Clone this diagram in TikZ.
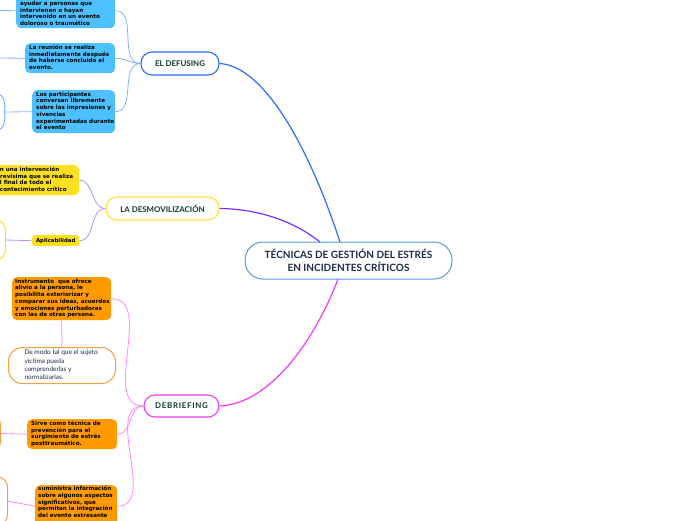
\documentclass[tikz,border=0pt]{standalone}
\usepackage{fontspec}
\setmainfont{DejaVu Sans}
\newfontfamily\latofont{Lato}
\definecolor{blueF}{HTML}{4DC0FF}
\definecolor{yellowF}{HTML}{FFE01F}
\definecolor{orangeF}{HTML}{FF9A00}
\definecolor{centralB}{HTML}{5A9BDC}
\definecolor{defB}{HTML}{2E6BFF}
\definecolor{desB}{HTML}{FFE03A}
\definecolor{debB}{HTML}{F03CF0}
\definecolor{mainT}{HTML}{0F3A30}
\definecolor{centralT}{HTML}{1B2A4A}
\definecolor{lblue}{HTML}{86B0FF}
\definecolor{lpurple}{HTML}{B690FF}
\definecolor{lpink}{HTML}{FF88FF}
\definecolor{mpurple}{HTML}{7B2FFF}
\definecolor{wOrange}{HTML}{F5A040}
\newcommand\boxlines[2]{\makebox[#1][l]{\begin{tabular}{@{}l@{}}#2\end{tabular}}}
\tikzset{
  mainnode/.style={draw, line width=1.1pt, fill=white, rounded corners=11pt, inner sep=0pt,
    font=\latofont\bfseries\fontsize{7.9}{9}\selectfont, text=mainT},
  childbox/.style={rounded corners=5pt, inner xsep=4pt, inner ysep=0pt, anchor=north west,
    font=\bfseries\fontsize{5.6}{6.7}\selectfont, text=black},
  partial/.style={draw, line width=1pt, fill=white, rounded corners=10pt, anchor=east, minimum width=45pt},
  clink/.style={line width=0.8pt},
  mlink/.style={line width=1.2pt}
}
\begin{document}
\begin{tikzpicture}[x=1pt,y=-1pt]
\useasboundingbox (0,0) rectangle (696,520);
\clip (0,0) rectangle (696,520);

% central
\node[draw=centralB, line width=1pt, fill=white, rounded corners=18pt, minimum width=207pt, minimum height=37pt,
  align=center, font=\latofont\bfseries\fontsize{10}{13.5}\selectfont, text=centralT] (central) at (348.5,260.5)
  {TÉCNICAS DE GESTIÓN DEL ESTRÉS\\EN INCIDENTES CRÍTICOS};

% main nodes
\node[mainnode, draw=defB, minimum width=78pt, minimum height=23pt] (def) at (180,63.5) {EL DEFUSING};
\node[mainnode, draw=desB, minimum width=113pt, minimum height=23pt] (des) at (162.5,208.5) {LA DESMOVILIZACIÓN};
\node[mainnode, draw=debB, minimum width=75pt, minimum height=22pt] (deb) at (181.5,406)
  {D\kern.7pt E\kern.7pt B\kern.7pt R\kern.7pt I\kern.7pt E\kern.7pt F\kern.7pt I\kern.7pt N\kern.7pt G};

% main connectors
\draw[mlink, defB] (def.east) .. controls (265,66) and (310,150) .. (340,242);
\draw[mlink, mpurple] (des.east) .. controls (260,209) and (295,222) .. (320,242);
\draw[mlink, debB] (deb.east) .. controls (270,404) and (315,340) .. (338,279);

% defusing children
\node[childbox, fill=blueF, minimum width=99pt, minimum height=35pt] (d1) at (16,-7)
  {\boxlines{91pt}{\mbox{}\\ayudar a personas que\\intervienen o hayan\\intervenido en un evento\\doloroso o traumático}};
\node[childbox, fill=blueF, minimum width=90pt, minimum height=30pt] (d2) at (25,43)
  {\boxlines{82pt}{La reunión se realiza\\inmediatamente después\\de haberse concluido el\\evento.}};
\node[childbox, fill=blueF, minimum width=83pt, minimum height=43pt] (d3) at (32,90)
  {\boxlines{75pt}{Los participantes\\conversan libremente\\sobre las impresiones y\\vivencias\\experimentadas durante\\el evento}};
\node[partial, draw=lblue, minimum height=38pt] (p1) at (5,112) {};
\coordinate (e1) at (-5,10.5);
\coordinate (e2) at (-5,58);

\foreach \c in {d1,d2,d3} \draw[clink, lblue] (\c.east) to[out=0,in=180] (def.west);
\draw[clink, lblue] (d1.west) -- (e1);
\draw[clink, lblue] (d2.west) -- (e2);
\draw[clink, lblue] (d3.west) -- (p1.east);

% desmovilizacion children
\node[childbox, fill=yellowF, minimum width=87pt, minimum height=30pt] (y1) at (-8,165)
  {\boxlines{79pt}{en una intervención\\brevísima que se realiza\\al final de todo el\\acontecimiento crítico}};
\node[childbox, fill=yellowF, rounded corners=3pt, inner xsep=2pt, minimum width=47pt, minimum height=11pt,
  font=\bfseries\fontsize{5.4}{6}\selectfont] (y2) at (32,235) {Aplicabilidad};
\node[partial, draw=desB, minimum height=40pt] (p2) at (6,240) {};
\draw[clink, lpurple] (y1.east) to[out=0,in=180] (des.west);
\draw[clink, lpurple] (y2.east) to[out=0,in=180] (des.west);
\draw[clink, lpurple] (y2.west) -- (p2.east);

% debriefing children
\node[childbox, fill=orangeF, minimum width=99pt, minimum height=43pt, inner xsep=3pt] (o1) at (12,277)
  {\boxlines{93pt}{Instrumento\ \ que ofrece\\alivio a la persona, le\\posibilita exteriorizar y\\comparar sus ideas, acuerdos\\y emociones perturbadoras\\con las de otras persona.}};
\node[draw=wOrange, line width=1pt, fill=white, rounded corners=14pt, anchor=north west, minimum width=107pt,
  minimum height=36pt, inner xsep=8pt, inner ysep=0pt,
  font=\latofont\fontsize{6.5}{8.2}\selectfont, text=centralT] (w1) at (8,347)
  {\boxlines{91pt}{\hspace*{8pt}De modo tal que el sujeto\\\hspace*{8pt}víctima pueda\\\hspace*{8pt}comprenderlas y\\\hspace*{8pt}normalizarlas.}};
\node[childbox, fill=orangeF, minimum width=90pt, minimum height=30pt] (o2) at (27,419)
  {\boxlines{82pt}{Sirve como técnica de\\prevención para el\\surgimiento de estrés\\posttraumático.}};
\node[childbox, fill=orangeF, minimum width=82pt, minimum height=42pt, inner xsep=3pt] (o3) at (35,485)
  {\boxlines{76pt}{suministra información\\sobre algunos aspectos\\significativos, que\\permitan la integración\\del evento estresante\\\mbox{}}};
\node[partial, draw=wOrange, minimum height=37pt] (p3) at (1,433.5) {};
\node[partial, draw=wOrange, minimum height=48pt] (p4) at (8,501) {};
\foreach \c in {o1,o2,o3} \draw[clink, lpink] (\c.east) to[out=0,in=180] (deb.west);
\draw[clink, lpink] (o1.south) -- (w1.north);
\draw[clink, lpink] (o2.west) -- (p3.east);
\draw[clink, lpink] (o3.west) -- (p4.east);
\end{tikzpicture}
\end{document}
